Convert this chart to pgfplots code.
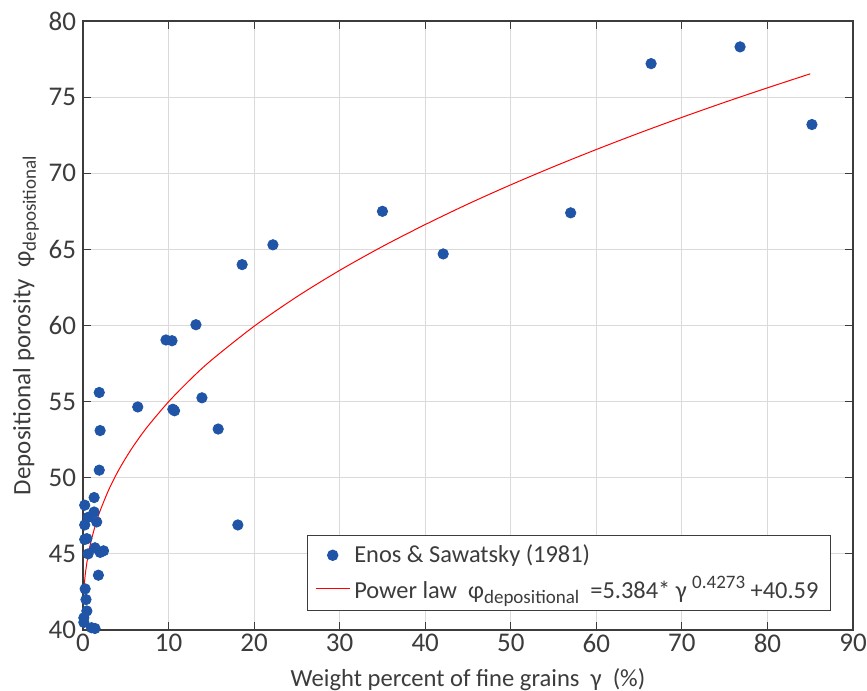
\documentclass[border=0pt]{standalone}
\usepackage{fontspec}
\setmainfont{Carlito}
\usepackage{pgfplots}
\pgfplotsset{compat=1.18}

\definecolor{dotblue}{RGB}{31,84,166}
\definecolor{axgray}{RGB}{60,60,60}
\definecolor{gridgray}{RGB}{218,218,218}

\newcommand{\sub}[1]{\raisebox{-0.45ex}{\fontsize{9.5}{10}\selectfont #1}}
\newcommand{\sups}[1]{\raisebox{0.9ex}{\fontsize{9.5}{10}\selectfont #1}}

\begin{document}
\begin{tikzpicture}
\begin{axis}[
    scale only axis,
    width=385pt, height=304.5pt,
    xmin=0, xmax=90, ymin=40, ymax=80,
    xtick={0,10,...,90}, ytick={40,45,...,80},
    grid=major,
    grid style={gridgray, line width=0.5pt},
    axis line style={axgray, line width=0.6pt},
    tick style={axgray, line width=0.5pt},
    tick align=inside,
    major tick length=4pt,
    ticklabel style={font=\fontsize{13.5}{15}\selectfont, text=axgray},
    xticklabel style={yshift=1.5pt},
    /pgf/number format/assume math mode=true,
    xlabel={Weight percent of fine grains\ \ γ\ \ (\%)},
    ylabel={Depositional porosity\ \ φ\sub{depositional}},
    xlabel style={font=\fontsize{12.3}{14}\selectfont, text=axgray, yshift=-1pt},
    ylabel style={font=\fontsize{12.5}{14}\selectfont, text=axgray, yshift=-2pt},
    clip=false,
    legend cell align=left,
    legend style={at={(0.9714,0.0312)}, anchor=south east,
        draw=axgray, line width=0.5pt, fill=white,
        font=\fontsize{12.2}{14}\selectfont, text=axgray,
        inner xsep=4pt, inner ysep=2.5pt, row sep=1pt},
]
\addplot[only marks, mark=*, mark size=2.6pt, color=dotblue] coordinates {
    (1.9,55.6) (2.0,53.1) (1.9,50.5) (1.3,48.7) (0.2,48.2)
    (1.3,47.75) (0.6,47.4) (1.6,47.1) (0.2,46.9) (0.2,45.95)
    (0.45,46.0) (0.6,45.0) (1.4,45.4) (2.0,45.1) (2.4,45.2)
    (1.8,43.6) (0.25,42.7) (0.35,42.0) (0.45,41.25) (0.1,40.8)
    (0.1,40.5) (1.0,40.15) (1.4,40.1)
    (6.4,54.65) (9.7,59.05) (10.4,59.0) (13.2,60.05) (10.5,54.5)
    (10.7,54.4) (13.9,55.25) (15.8,53.2) (18.1,46.9) (18.6,64.0)
    (22.2,65.3) (35.0,67.5) (42.1,64.7) (57.0,67.4) (66.4,77.2)
    (76.8,78.3) (85.2,73.2)
};
\addlegendentry{Enos \& Sawatsky (1981)}
\addplot[red, line width=0.5pt, smooth] coordinates {
    (0.15,42.98) (0.25,43.57) (0.3,43.81) (0.5,44.59) (0.75,45.35)
    (1,45.97) (1.5,46.99) (2,47.83) (3,49.20) (4,50.33) (5,51.30)
    (6,52.17) (7.5,53.33) (10,54.99) (12.5,56.43) (15,57.72)
    (20,59.95) (25,61.89) (30,63.62) (35,65.19) (40,66.63)
    (45,67.98) (50,69.24) (55,70.43) (60,71.56) (65,72.64)
    (70,73.67) (75,74.66) (80,75.61) (85,76.53)
};
\addlegendentry{Power law\ \ φ\sub{depositional}\ \ =5.384*\ γ\ \sups{0.4273}\ +40.59}
\end{axis}
\pgfresetboundingbox
\path[use as bounding box] ([shift={(-41.5pt,-30pt)}]current axis.south west)
    rectangle ([shift={(7pt,10.5pt)}]current axis.north east);
\end{tikzpicture}
\end{document}
